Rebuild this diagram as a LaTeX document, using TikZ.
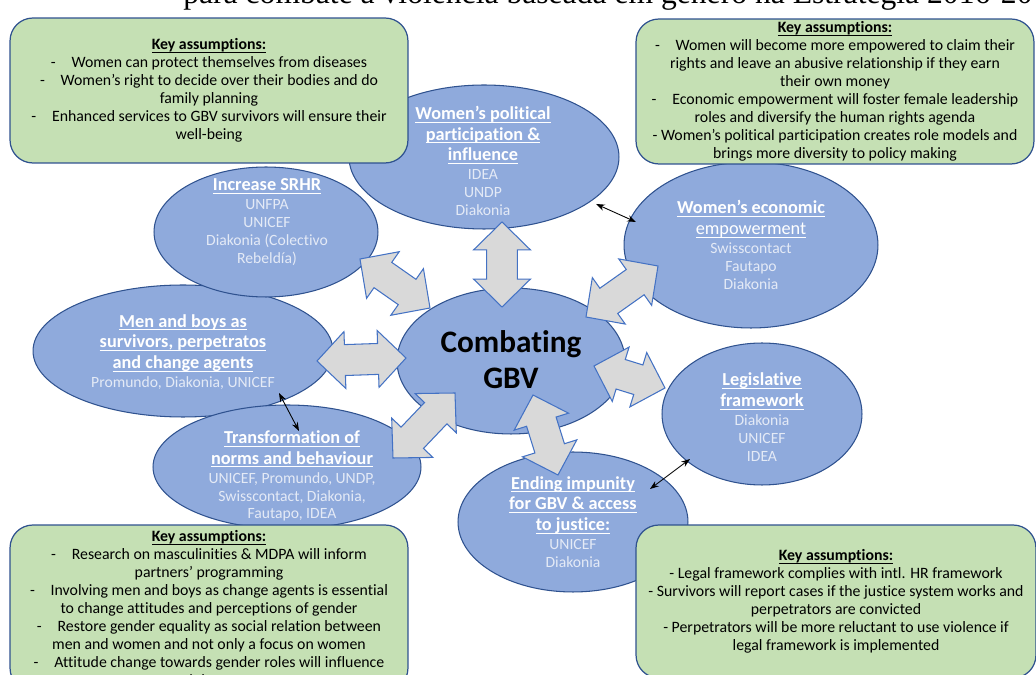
\documentclass[tikz,border=0pt]{standalone}
\usepackage{fontspec}
\setmainfont[Ligatures=NoCommon]{Carlito}
\newfontfamily\titlefont{Liberation Serif}
\usetikzlibrary{shapes.geometric, arrows.meta, positioning, calc}

\definecolor{goalfill}{HTML}{8FAADC}
\definecolor{goalline}{HTML}{2F528F}
\definecolor{orgtext}{HTML}{E4EAF6}
\definecolor{notefill}{HTML}{C5E0B4}
\definecolor{noteline}{HTML}{2F528F}
\definecolor{arrowfill}{HTML}{D9D9D9}
\definecolor{arrowline}{HTML}{4472C4}

% underline at a fixed depth
\newsavebox{\undlbox}
\newcommand{\undl}[1]{\sbox{\undlbox}{#1}\usebox{\undlbox}\kern-\wd\undlbox\rule[-1.8pt]{\wd\undlbox}{0.5pt}}
\newcommand{\keyhd}{\undl{\textbf{Key assumptions:}}}
\newcommand{\hd}[1]{{\fontsize{10.4}{11.9}\selectfont\bfseries\color{white}\undl{#1}}}

% fat double arrow between two named points
\newcommand{\bigarrow}[2]{%
  \draw[blockarrow] (#1)
    -- ($(#1)!\arrowhl!(#2)!\arrowhw!90:(#2)$)
    -- ($(#1)!\arrowhl!(#2)!\arrowsw!90:(#2)$)
    -- ($(#2)!\arrowhl!(#1)!\arrowsw!270:(#1)$)
    -- ($(#2)!\arrowhl!(#1)!\arrowhw!270:(#1)$)
    -- (#2)
    -- ($(#2)!\arrowhl!(#1)!\arrowhw!90:(#1)$)
    -- ($(#2)!\arrowhl!(#1)!\arrowsw!90:(#1)$)
    -- ($(#1)!\arrowhl!(#2)!\arrowsw!270:(#2)$)
    -- ($(#1)!\arrowhl!(#2)!\arrowhw!270:(#2)$)
    -- cycle;}

\begin{document}
\begin{tikzpicture}[x=0.02cm, y=-0.02cm,
    goal/.style={ellipse, draw=goalline, fill=goalfill, line width=0.6pt, inner sep=0pt},
    goaltxt/.style={align=center, text=orgtext, inner sep=0pt, font=\fontsize{8.9}{10.2}\selectfont},
    note/.style={rectangle, rounded corners=13pt, draw=noteline, fill=notefill, line width=0.7pt,
                 align=center, inner sep=0pt, font=\fontsize{9}{10.2}\selectfont},
    blockarrow/.style={draw=arrowline, fill=arrowfill, line width=0.6pt, line join=miter},
    link/.style={{Stealth[length=5pt,width=3.6pt]}-{Stealth[length=5pt,width=3.6pt]}, line width=0.5pt}]
        \def\arrowhl{15.9pt}
        \def\arrowhw{16.2pt}
        \def\arrowsw{8.8pt}

        \useasboundingbox (0,0) rectangle (1036,675);
        \clip (0,0) rectangle (1036,675);

        % caption line, cut off by the page top
        \node[anchor=base west, inner sep=0pt, font=\titlefont\fontsize{18}{20}\selectfont] (caption) at (183,4)
            {para combate a violência baseada em gênero na Estratégia 2016-20};

        % Outcome areas
        \node[goal, minimum width=6cm, minimum height=2.64cm] (men) at (183,351) {};
        \node[goaltxt] (mentxt) at (183,352) {\hd{Men and boys as}\\[1.6pt] \hd{survivors, perpetratos}\\[1.6pt]
            \hd{and change agents}\\[0.6pt] Promundo, Diakonia, UNICEF};

        \node[goal, minimum width=4.48cm, minimum height=2.6cm] (srhr) at (266,232) {};
        \node[goaltxt] (srhrtxt) at (267,222) {\hd{Increase SRHR}\\[0.6pt] UNFPA\\ UNICEF\\ Diakonia (Colectivo\\ Rebeldía)};

        \node[goal, minimum width=5.36cm, minimum height=2.48cm] (norms) at (287,467) {};
        \node[goaltxt] (normstxt) at (292,476) {\hd{Transformation of}\\[1.6pt] \hd{norms and behaviour}\\[0.6pt]
            UNICEF, Promundo, UNDP,\\ Swisscontact, Diakonia,\\ Fautapo, IDEA};

        \node[goal, minimum width=5.4cm, minimum height=2.88cm] (pol) at (484,157) {};
        \node[goaltxt] (poltxt) at (483,161) {\hd{Women’s political}\\[1.6pt] \hd{participation \&}\\[1.6pt]
            \hd{influence}\\[0.6pt] IDEA\\ UNDP\\ Diakonia};

        \node[goal, minimum width=5.08cm, minimum height=3.32cm] (econ) at (751,245) {};
        \node[goaltxt] (econtxt) at (751,245) {\hd{Women’s economic}\\[1.6pt]
            {\fontsize{10.4}{11.9}\selectfont\color{white}\undl{empowerment}}\\[0.6pt] Swisscontact\\ Fautapo\\ Diakonia};

        \node[goal, minimum width=4.56cm, minimum height=2.92cm] (gbv) at (511,361) {};
        \node[align=center, inner sep=0pt, font=\fontsize{17.8}{20.4}\selectfont\bfseries] (gbvtxt) at (511,360) {Combating\\GBV};

        \node[goal, minimum width=4cm, minimum height=2.84cm] (legal) at (762,414) {};
        \node[goaltxt] (legaltxt) at (762,417) {\hd{Legislative}\\[1.6pt] \hd{framework}\\[0.6pt] Diakonia\\ UNICEF\\ IDEA};

        \node[goal, minimum width=4.6cm, minimum height=2.8cm] (imp) at (573,522) {};
        \node[goaltxt] (imptxt) at (573,522) {\hd{Ending impunity}\\[1.6pt] \hd{for GBV \& access}\\[1.6pt]
            \hd{to justice:}\\[0.6pt] UNICEF\\ Diakonia};

        % arrow ends
        \coordinate (srhrA) at (360,259);  \coordinate (srhrB) at (430,308);
        \coordinate (polA) at (502,222);   \coordinate (polB) at (502,307);
        \coordinate (econA) at (658,266);  \coordinate (econB) at (586,317);
        \coordinate (menA) at (317,361);   \coordinate (menB) at (406,358);
        \coordinate (legalA) at (594,366); \coordinate (legalB) at (665,388);
        \coordinate (normsA) at (393,458); \coordinate (normsB) at (455,393);
        \coordinate (impA) at (533,395);   \coordinate (impB) at (558,475);

        % links to the centre
        \bigarrow{srhrA}{srhrB}
        \bigarrow{polA}{polB}
        \bigarrow{econA}{econB}
        \bigarrow{menA}{menB}
        \bigarrow{legalA}{legalB}
        \bigarrow{normsA}{normsB}
        \bigarrow{impA}{impB}

        % links between neighbours
        \coordinate (polL) at (596,204);   \coordinate (econL) at (636,222);
        \coordinate (menL) at (279,393);   \coordinate (normsL) at (299,431);
        \coordinate (legalL) at (690,459); \coordinate (impL) at (650,489);
        \draw[link] (polL) -- (econL);
        \draw[link] (menL) -- (normsL);
        \draw[link] (legalL) -- (impL);

        % Key assumptions
        \node[note, minimum width=7.96cm, minimum height=2.9cm] (keysrhr) at (209,90.5) {\keyhd\\
            -\hspace{1em}Women can protect themselves from diseases\\
            -\hspace{1em}Women’s right to decide over their bodies and do\\
            family planning\\
            -\hspace{1em}Enhanced services to GBV survivors will ensure their\\
            well-being};
        \node[note, minimum width=7.96cm, minimum height=2.9cm] (keyecon) at (835,91.5) {\keyhd\\
            -\hspace{1em}Women will become more empowered to claim their\\
            rights and leave an abusive relationship if they earn\\
            their own money\\
            -\hspace{1em}Economic empowerment will foster female leadership\\
            roles and diversify the human rights agenda\\
            - Women’s political participation creates role models and\\
            brings more diversity to policy making};
        \node[note, minimum width=7.96cm, minimum height=3.32cm] (keynorms) at (209,608) {\keyhd\\
            -\hspace{1em}Research on masculinities \& MDPA will inform\\
            partners’ programming\\
            -\hspace{1em}Involving men and boys as change agents is essential\\
            to change attitudes and perceptions of gender\\
            -\hspace{1em}Restore gender equality as social relation between\\
            men and women and not only a focus on women\\
            -\hspace{1em}Attitude change towards gender roles will influence\\
            violence};
        \node[note, minimum width=8cm, minimum height=3.06cm] (keylegal) at (836,601.5) {\keyhd\\
            - Legal framework complies with intl. HR framework\\
            - Survivors will report cases if the justice system works and\\
            perpetrators are convicted\\
            - Perpetrators will be more reluctant to use violence if\\
            legal framework is implemented};
\end{tikzpicture}
\end{document}
